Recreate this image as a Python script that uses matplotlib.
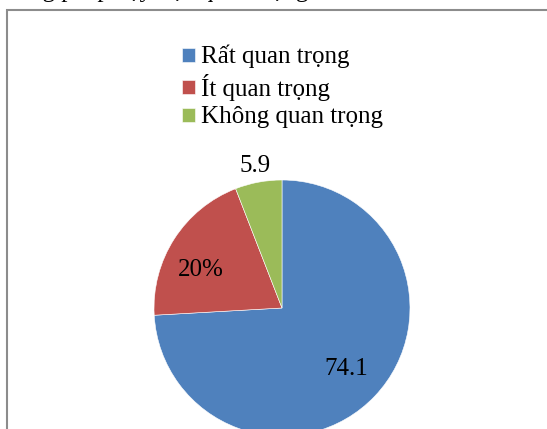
import matplotlib
matplotlib.use("Agg")
import matplotlib.pyplot as plt
import numpy as np
from matplotlib.patches import Rectangle

categories = ["Rất quan trọng", "Ít quan trọng", "Không quan trọng"]
values = [74.1, 20.0, 5.9]
value_labels = ["74.1", "20%", "5.9"]
label_dist = [0.69, 0.70, 1.13]
label_shift = [0, 8, 0]
colors = ["#4F81BD", "#C0504D", "#9BBB59"]

plt.rcParams['font.family'] = ['Liberation Serif', 'DejaVu Serif']

W, H = 547, 429
fig = plt.figure(figsize=(W / 100, H / 100), dpi=100)

# partially visible heading text above the chart frame
fig.text(30 / W, 1 + 3 / H, "ng pháp dạy học quan trọng", fontsize=18,
         va='baseline', ha='left', color='black')

# chart frame
fig.add_artist(Rectangle((7 / W, -0.05), 1.0, 1 - 10 / H + 0.05,
                         transform=fig.transFigure, fill=False,
                         edgecolor='#8c8c8c', linewidth=1.5))

cx, cy, r = 282, 308, 128
ax = fig.add_axes([(cx - r) / W, (H - cy - r) / H, 2 * r / W, 2 * r / H])
wedges, _ = ax.pie(values, colors=colors, startangle=90, counterclock=False,
                   radius=1, wedgeprops=dict(edgecolor='white', linewidth=0.4))
ax.set_xlim(-1, 1)
ax.set_ylim(-1, 1)
ax.set_aspect('equal')
ax.axis('off')
for w in wedges:
    w.set_clip_on(False)

for w, lab, d, s in zip(wedges, value_labels, label_dist, label_shift):
    ang = np.deg2rad((w.theta1 + w.theta2) / 2 + s)
    ax.text(d * np.cos(ang), d * np.sin(ang), lab, ha='center', va='center',
            fontsize=18, clip_on=False)

fig.legend(wedges, categories, loc='upper left',
           bbox_to_anchor=(182 / W, 1 - 45 / H), frameon=False,
           fontsize=18, handlelength=0.5, handleheight=0.5,
           handletextpad=0.25, labelspacing=0.22, borderpad=0, borderaxespad=0)

fig.savefig("out.png", dpi=100)
